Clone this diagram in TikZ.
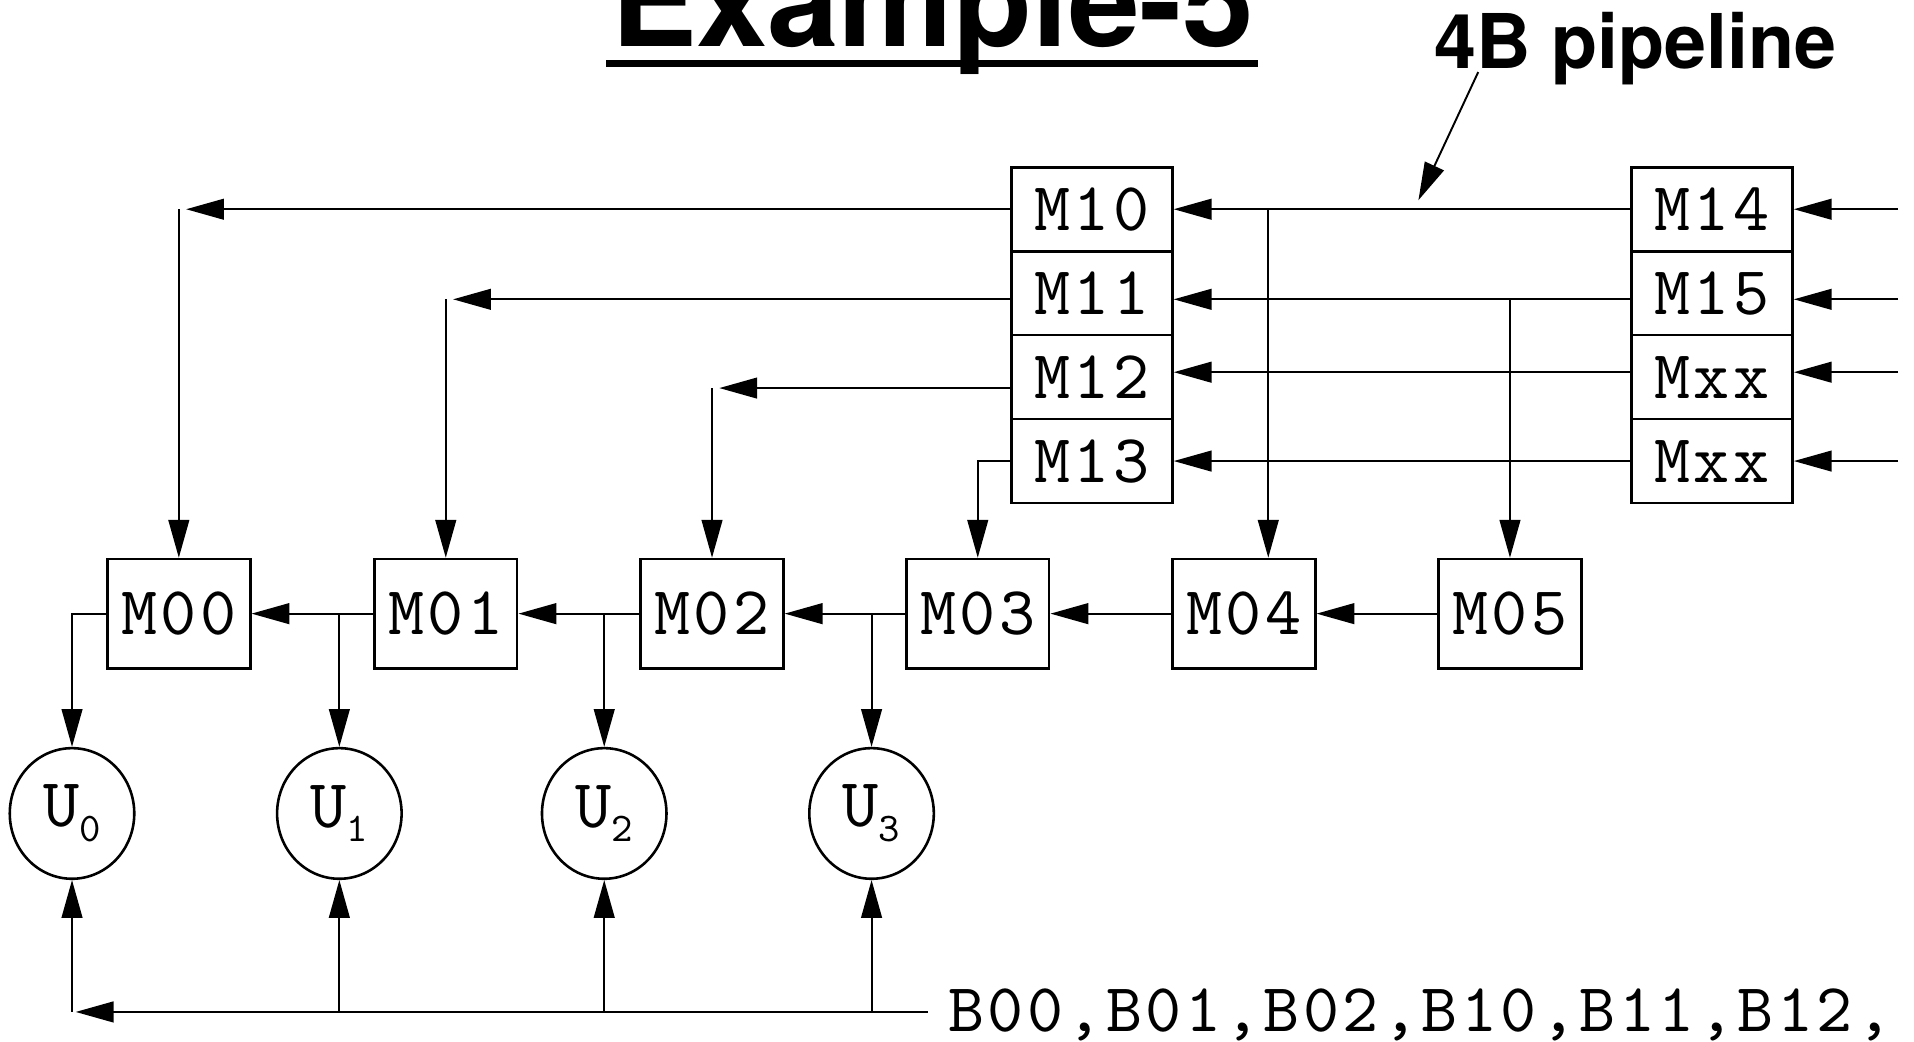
\documentclass[tikz,border=0pt]{standalone}
\usepackage{fontspec}
\usepackage{tikz}
\usetikzlibrary{arrows.meta, shapes.geometric}

\newfontfamily\helvfont{TeX Gyre Heros}
\newfontfamily\regfam{lmmono10-regular}[Extension=.otf, LetterSpace=5]
\newcommand{\regfont}{\regfam\fontsize{16}{19}\selectfont}
\newcommand{\usub}[1]{\raisebox{-0.12cm}{\fontsize{9.5}{10}\selectfont #1}}

\begin{document}
\begin{tikzpicture}[
        >={Triangle[length=0.31cm, width=0.17cm]},
        line width=0.45pt,
        reg/.style={draw, line width=0.6pt, minimum width=1.32cm, minimum height=0.6875cm, inner sep=0pt, font=\regfont},
        cell/.style={draw, line width=0.6pt, minimum width=1.17cm, minimum height=0.895cm, inner sep=0pt, font=\regfont},
        unit/.style={ellipse, draw, line width=0.6pt, minimum width=1.02cm, minimum height=1.07cm, inner sep=0pt, font=\regfont}
    ]
        \useasboundingbox (0, 0) rectangle (15.68, 8.53);

        % Title
            \node[anchor=base, inner sep=0pt, font={\helvfont\bfseries\fontsize{30}{36}\selectfont}] (title) at (7.64, 8.15) {Example-5};
            \draw[line width=1.6pt] ([xshift=-0.03cm, yshift=-0.14cm]title.base west) -- ([xshift=0.02cm, yshift=-0.14cm]title.base east);
            \node[anchor=base west, inner sep=0pt, font={\helvfont\bfseries\fontsize{17.6}{20}\selectfont}] (pipe) at (11.74, 7.97) {4B pipeline};
            \coordinate (ptip) at (11.62, 6.89);
            \draw[->] ([xshift=0.37cm, yshift=-0.03cm]pipe.base west) -- (ptip);

            % Pipeline registers (left block)
            \node[reg] (m10) at (8.945, 6.816) {M10};
            \node[reg] (m11) at (8.945, 6.128) {M11};
            \node[reg] (m12) at (8.945, 5.441) {M12};
            \node[reg] (m13) at (8.945, 4.753) {M13};

            % Pipeline registers (right block)
            \node[reg] (m14) at (14.025, 6.816) {M14};
            \node[reg] (m15) at (14.025, 6.128) {M15};
            \node[reg] (mx2) at (14.025, 5.441) {Mxx};
            \node[reg] (mx3) at (14.025, 4.753) {Mxx};

            % Chain registers
            \node[cell] (m00) at (1.465, 3.503) {M00};
            \node[cell] (m01) at (3.652, 3.503) {M01};
            \node[cell] (m02) at (5.833, 3.503) {M02};
            \node[cell] (m03) at (8.010, 3.503) {M03};
            \node[cell] (m04) at (10.190, 3.503) {M04};
            \node[cell] (m05) at (12.370, 3.503) {M05};

            % Units
            \node[unit] (u0) at (0.59, 1.866) {U\usub{0}};
            \node[unit] (u1) at (2.78, 1.866) {U\usub{1}};
            \node[unit] (u2) at (4.95, 1.866) {U\usub{2}};
            \node[unit] (u3) at (7.14, 1.866) {U\usub{3}};

            % Input stream
            \node[anchor=base west, inner sep=0pt, font=\regfont] (bits) at (7.76, 0.08) {B00,B01,B02,B10,B11,B12,};
            \coordinate (bin) at (7.60, 0.24);

            % Free ends on the right
            \coordinate (i14) at (15.55, 6.816);
            \coordinate (i15) at (15.55, 6.078);
            \coordinate (ix2) at (15.55, 5.481);
            \coordinate (ix3) at (15.55, 4.753);

            % Inputs into right block
            \draw[->] (i14) -- (m14.east);
            \draw[->] (i15) -- (i15 -| m15.east);
            \draw[->] (ix2) -- (ix2 -| mx2.east);
            \draw[->] (ix3) -- (mx3.east);

            % Right block to left block
            \draw[->] (m14.west) -- (m10.east);
            \draw[->] (i15 -| m15.west) -- (i15 -| m11.east);
            \draw[->] (ix2 -| mx2.west) -- (ix2 -| m12.east);
            \draw[->] (mx3.west) -- (m13.east);

            % Taps down to M04 and M05
            \coordinate (t4) at ([xshift=0.20cm]m04.north);
            \draw[->] (m10.east -| t4) -- (t4);
            \draw[->] (i15 -| m05.north) -- (m05.north);

            % Left block down to the chain
            \coordinate (o11) at ([yshift=-0.05cm]m11.west);
            \coordinate (o12) at ([yshift=-0.09cm]m12.west);
            \coordinate (c0) at (m10.west -| m00.north);
            \coordinate (c1) at (o11 -| m01.north);
            \coordinate (c2) at (o12 -| m02.north);
            \draw[->] (m10.west) -- ([xshift=0.06cm]c0);
            \draw[->] (c0) -- (m00.north);
            \draw[->] (o11) -- ([xshift=0.06cm]c1);
            \draw[->] (c1) -- (m01.north);
            \draw[->] (o12) -- ([xshift=0.06cm]c2);
            \draw[->] (c2) -- (m02.north);
            \draw[->] (m13.west) -| (m03.north);

            % Chain shifting left
            \draw[->] (m05.west) -- (m04.east);
            \draw[->] (m04.west) -- (m03.east);
            \draw[->] (m03.west) -- (m02.east);
            \draw[->] (m02.west) -- (m01.east);
            \draw[->] (m01.west) -- (m00.east);

            % Chain to units
            \draw[->] (m00.west) -| (u0.north);
            \draw[->] (m01.west -| u1.north) -- (u1.north);
            \draw[->] (m02.west -| u2.north) -- (u2.north);
            \draw[->] (m03.west -| u3.north) -- (u3.north);

            % Stream bus to units
            \coordinate (b0) at (bin -| u0.south);
            \draw[->] (bin) -- ([xshift=0.03cm]b0);
            \draw[->] (b0) -- (u0.south);
            \draw[->] (bin -| u1.south) -- (u1.south);
            \draw[->] (bin -| u2.south) -- (u2.south);
            \draw[->] (bin -| u3.south) -- (u3.south);
    \end{tikzpicture}
\end{document}
